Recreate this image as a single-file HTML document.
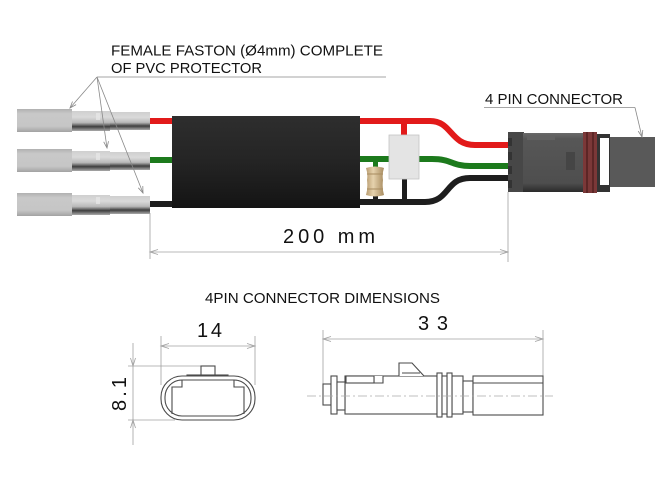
<!DOCTYPE html>
<html><head><meta charset="utf-8"><style>
html,body{margin:0;padding:0;background:#fff;}
svg{display:block}
text{font-family:"Liberation Sans",Arial,sans-serif;fill:#111}
</style></head><body>
<svg width="672" height="487" viewBox="0 0 672 487" xmlns="http://www.w3.org/2000/svg">
<defs>
 <linearGradient id="tubeL" x1="0" y1="0" x2="0" y2="1">
  <stop offset="0" stop-color="#b0b0b0"/><stop offset="0.2" stop-color="#c8c8c8"/><stop offset="0.75" stop-color="#c6c6c6"/><stop offset="1" stop-color="#a2a2a2"/>
 </linearGradient>
 <linearGradient id="tubeR" x1="0" y1="0" x2="0" y2="1">
  <stop offset="0" stop-color="#cfcfcf"/><stop offset="0.3" stop-color="#dadada"/><stop offset="0.58" stop-color="#b9b9b9"/><stop offset="0.78" stop-color="#3e3e3e"/><stop offset="0.9" stop-color="#7a7a7a"/><stop offset="1" stop-color="#aaaaaa"/>
 </linearGradient>
 <linearGradient id="boxG" x1="0" y1="0" x2="0" y2="1">
  <stop offset="0" stop-color="#2e2e2e"/><stop offset="0.5" stop-color="#242424"/><stop offset="1" stop-color="#141414"/>
 </linearGradient>
 <linearGradient id="resG" x1="0" y1="0" x2="1" y2="0">
  <stop offset="0" stop-color="#b89c70"/><stop offset="0.4" stop-color="#e6d2ad"/><stop offset="1" stop-color="#a88c60"/>
 </linearGradient>
 <linearGradient id="connG" x1="0" y1="0" x2="0" y2="1">
  <stop offset="0" stop-color="#6a6a6a"/><stop offset="0.1" stop-color="#575757"/><stop offset="0.85" stop-color="#4e4e4e"/><stop offset="1" stop-color="#2a2a2a"/>
 </linearGradient>
 <g id="faston">
  <rect x="0" y="0" width="55" height="23" fill="url(#tubeL)"/>
  <rect x="55" y="2" width="38" height="20" fill="url(#tubeR)"/>
  <rect x="93" y="3" width="40" height="18" fill="url(#tubeR)"/>
  <rect x="79" y="4" width="4" height="7" fill="#e8e8e8" opacity="0.7"/>
 </g>
</defs>

<!-- Top label -->
<text x="111" y="55.5" font-size="15" textLength="272" lengthAdjust="spacingAndGlyphs">FEMALE FASTON (Ø4mm) COMPLETE</text>
<text x="111" y="73" font-size="15" textLength="151" lengthAdjust="spacingAndGlyphs">OF PVC PROTECTOR</text>
<line x1="97" y1="77" x2="386" y2="77" stroke="#888" stroke-width="0.8"/>

<!-- fastons -->
<use href="#faston" x="17" y="109"/>
<use href="#faston" x="17" y="149"/>
<use href="#faston" x="17" y="193"/>

<!-- wires left -->
<rect x="150" y="118" width="23" height="6" fill="#e21a1a"/>
<rect x="150" y="157" width="23" height="6" fill="#1c7a1c"/>
<rect x="150" y="201" width="23" height="6" fill="#1e1e1e"/>

<!-- leader lines -->
<g stroke="#888" stroke-width="0.8" fill="none">
 <line x1="97" y1="77" x2="70" y2="108"/>
 <polyline points="76.1,104.6 70,108 72.5,101.5"/>
 <line x1="97" y1="77" x2="107" y2="148"/>
 <polyline points="108.5,141.2 107,148 103.7,141.8"/>
 <line x1="97" y1="77" x2="143" y2="193"/>
 <polyline points="142.8,186 143,193 138.3,187.8"/>
</g>

<!-- black box -->
<rect x="172" y="116" width="188" height="92" fill="url(#boxG)"/>

<!-- wires right -->
<g fill="none" stroke-width="6">
 <path d="M360 121 H430 C452 121 450 145 475 145 H510" stroke="#e21a1a"/>
 <path d="M360 159 H432 C452 159 452 166 470 166 H510" stroke="#1c7a1c"/>
 <path d="M360 202 H425 C450 202 445 178 470 178 H510" stroke="#1e1e1e"/>
</g>
<!-- stubs -->
<rect x="401" y="122" width="6" height="14" fill="#e21a1a"/>
<rect x="402" y="178" width="5" height="24" fill="#1e1e1e"/>
<rect x="373" y="161" width="5" height="7" fill="#1c7a1c"/>
<rect x="373" y="194" width="5" height="8" fill="#1e1e1e"/>
<!-- white module -->
<rect x="389" y="135" width="30" height="44" fill="#e4e4e4" stroke="#c4c4c4" stroke-width="0.8"/>
<!-- resistor -->
<path d="M366 168 Q375 165 384 168 Q382 174 383 180 Q382 188 384 195 Q375 198 366 195 Q368 188 367 180 Q368 174 366 168 Z" fill="url(#resG)"/>
<rect x="367" y="173" width="16" height="2" fill="#a88c60" opacity="0.5"/>
<rect x="367" y="188" width="16" height="2" fill="#a88c60" opacity="0.5"/>

<!-- 4 pin connector -->
<rect x="508" y="132" width="16" height="60" fill="#474747"/>
<rect x="508" y="138" width="4" height="8" fill="#333"/>
<rect x="508" y="152" width="4" height="8" fill="#333"/>
<rect x="508" y="166" width="4" height="8" fill="#333"/>
<rect x="508" y="180" width="4" height="8" fill="#333"/>
<rect x="523" y="133" width="60" height="59" fill="url(#connG)"/>
<rect x="527" y="136" width="28" height="4" fill="#626262"/>
<rect x="566" y="152" width="9" height="18" fill="#454545"/>
<rect x="583" y="132" width="14" height="61" fill="#7b3838"/>
<rect x="586" y="132" width="2" height="61" fill="#5c2626"/>
<rect x="592" y="132" width="2" height="61" fill="#5c2626"/>
<rect x="597" y="134" width="13" height="58" fill="#333"/>
<rect x="600" y="138" width="9" height="47" fill="#fff"/>
<rect x="610" y="137" width="45" height="50" fill="#595959"/>

<!-- 4 pin label -->
<text x="485" y="104" font-size="15" textLength="138" lengthAdjust="spacingAndGlyphs">4 PIN CONNECTOR</text>
<g stroke="#888" stroke-width="0.8" fill="none">
 <line x1="484" y1="107.5" x2="635" y2="107.5"/>
 <line x1="635" y1="107.5" x2="642" y2="137"/>
 <polyline points="642.8,130 642,137 638.2,131.1"/>
</g>

<!-- 200 mm dimension -->
<g stroke="#a0a0a0" stroke-width="0.8" fill="none">
 <line x1="150" y1="213" x2="150" y2="259"/>
 <line x1="508" y1="192" x2="508" y2="262"/>
 <line x1="150" y1="252" x2="508" y2="252"/>
 <polyline points="158,249.5 150,252 158,254.5"/>
 <polyline points="500,249.5 508,252 500,254.5"/>
</g>
<text x="283" y="243" font-size="20" textLength="92" lengthAdjust="spacing">200 mm</text>

<!-- lower title -->
<text x="205" y="303" font-size="14.5" textLength="235" lengthAdjust="spacingAndGlyphs">4PIN CONNECTOR DIMENSIONS</text>

<!-- end view -->
<text x="197" y="337" font-size="20" textLength="25" lengthAdjust="spacing">14</text>
<g stroke="#a0a0a0" stroke-width="0.8" fill="none">
 <line x1="161" y1="336" x2="161" y2="385"/>
 <line x1="255" y1="336" x2="255" y2="385"/>
 <line x1="161" y1="346" x2="255" y2="346"/>
 <polyline points="169,343.5 161,346 169,348.5"/>
 <polyline points="247,343.5 255,346 247,348.5"/>
 <line x1="133" y1="343" x2="133" y2="445"/>
 <line x1="128" y1="366" x2="201" y2="366"/>
 <line x1="128" y1="420" x2="175" y2="420"/>
 <polyline points="130.5,358 133,366 135.5,358"/>
 <polyline points="130.5,428 133,420 135.5,428"/>
</g>
<text transform="translate(126,411) rotate(-90)" font-size="20" textLength="34" lengthAdjust="spacing">8.1</text>
<g stroke="#4a4a4a" stroke-width="1.1" fill="#fff">
 <rect x="201" y="366" width="14" height="11"/>
 <rect x="187" y="375" width="41" height="3" fill="#e0e0e0"/>
 <rect x="161" y="376" width="94" height="44" rx="21" ry="21"/>
 <rect x="165" y="380" width="86" height="36" rx="17" ry="17"/>
 <path d="M172 414 V387 H182 V380 M234 380 V387 H244 V414" fill="none"/>
</g>

<!-- side view -->
<text x="418" y="330" font-size="20" textLength="30" lengthAdjust="spacing">33</text>
<g stroke="#a0a0a0" stroke-width="0.8" fill="none">
 <line x1="323" y1="330" x2="323" y2="385"/>
 <line x1="543" y1="330" x2="543" y2="376"/>
 <line x1="323" y1="339" x2="543" y2="339"/>
 <polyline points="331,336.5 323,339 331,341.5"/>
 <polyline points="535,336.5 543,339 535,341.5"/>
</g>
<g stroke="#4a4a4a" stroke-width="1.1" fill="#fff">
 <rect x="323" y="384" width="8" height="21"/>
 <rect x="345" y="376" width="92" height="38"/>
 <rect x="331" y="376" width="6" height="38"/>
 <rect x="337" y="382" width="8" height="28"/>
 <path d="M374 376 V383 H383 V376" fill="#fff"/>
 <rect x="346" y="376" width="28" height="7"/>
 <path d="M399 376 V363 H412 L424 376" fill="#fff"/>
 <line x1="402" y1="373" x2="420" y2="373"/>
 <rect x="452" y="376" width="11" height="38"/>
 <rect x="463" y="381" width="10" height="31"/>
 <rect x="473" y="376" width="70" height="39"/>
 <line x1="473" y1="383" x2="543" y2="383"/>
 <rect x="437" y="373" width="5" height="44"/>
 <rect x="447" y="373" width="5" height="44"/>
 <rect x="442" y="376" width="5" height="38"/>
</g>
<line x1="307" y1="396" x2="553" y2="396" stroke="#aaa" stroke-width="0.7" stroke-dasharray="9 3 2 3"/>
</svg>
</body></html>
